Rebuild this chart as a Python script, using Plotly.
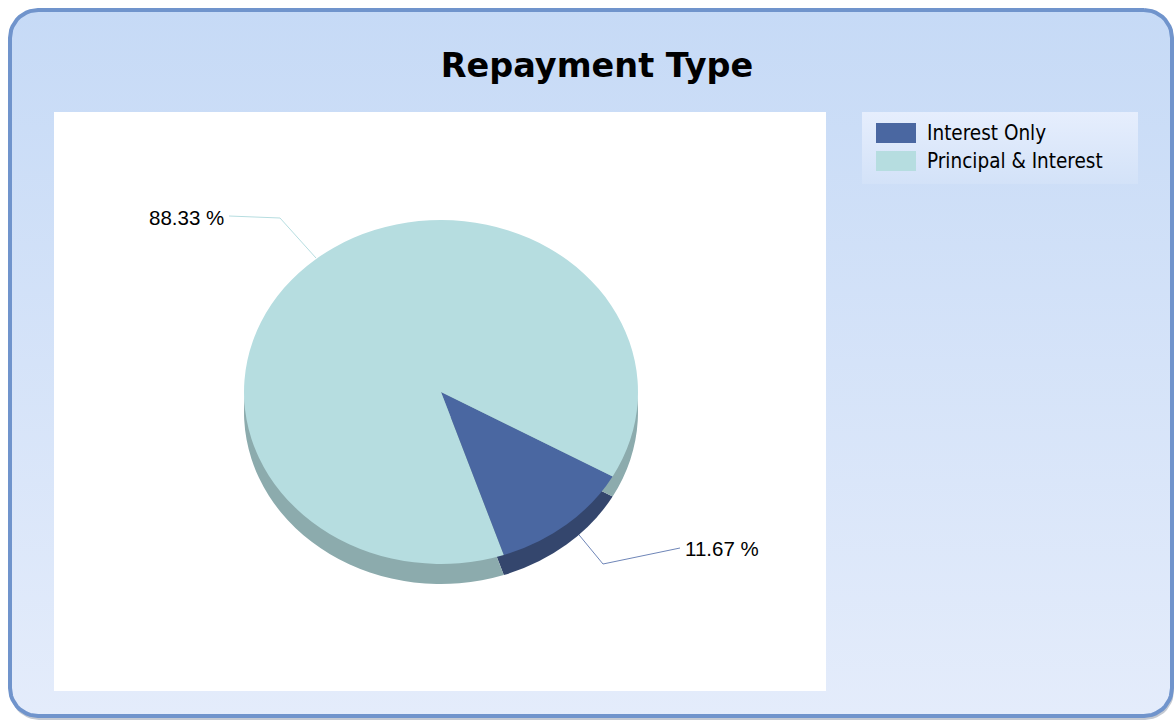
import numpy as np
import plotly.graph_objects as go

# ---- data ----
categories = ["Interest Only", "Principal & Interest"]
values = [11.67, 88.33]
top_colors = ["#4a67a1", "#b6dde0"]
side_colors = ["#34466d", "#8cabad"]

W, H = 1174, 720

def py(y):
    return H - y

def rounded_rect(x0, y0, x1, y1, r, n=12):
    xs, ys = [], []
    corners = [
        (x1 - r, y0 + r, -90, 0),
        (x1 - r, y1 - r, 0, 90),
        (x0 + r, y1 - r, 90, 180),
        (x0 + r, y0 + r, 180, 270),
    ]
    for cx_, cy_, a0, a1 in corners:
        t = np.radians(np.linspace(a0, a1, n))
        xs += list(cx_ + r * np.cos(t))
        ys += list(cy_ + r * np.sin(t))
    xs.append(xs[0]); ys.append(ys[0])
    return xs, [py(v) for v in ys]

fig = go.Figure()

# soft shadow under the panel
sx_, sy_ = rounded_rect(11, 12, 1173, 719, 28)
fig.add_trace(go.Scatter(
    x=sx_, y=sy_, mode="lines", fill="toself", fillcolor="#b9bfc9",
    line=dict(color="#c4c9d2", width=2), hoverinfo="skip", showlegend=False,
))
# background panel with gradient
bx, by = rounded_rect(10, 10, 1172, 716, 28)
fig.add_trace(go.Scatter(
    x=bx, y=by, mode="lines", fill="toself",
    line=dict(color="#7094cc", width=4),
    fillgradient=dict(type="vertical", colorscale=[[0, "#e4ecfb"], [1, "#c6daf6"]]),
    hoverinfo="skip", showlegend=False,
))
# white plot area
fig.add_trace(go.Scatter(
    x=[54, 826, 826, 54, 54], y=[py(112), py(112), py(691), py(691), py(112)],
    mode="lines", fill="toself", fillcolor="white", line=dict(width=0, color="white"),
    hoverinfo="skip", showlegend=False,
))
# legend box
fig.add_trace(go.Scatter(
    x=[862, 1138, 1138, 862, 862], y=[py(112), py(112), py(184), py(184), py(112)],
    mode="lines", fill="toself", line=dict(width=0, color="rgba(0,0,0,0)"),
    fillgradient=dict(type="vertical", colorscale=[[0, "#d3e2f8"], [1, "#e6eefd"]]),
    hoverinfo="skip", showlegend=False,
))
# leader lines
fig.add_trace(go.Scatter(
    x=[229, 280, 316], y=[py(216), py(218), py(258)], mode="lines",
    line=dict(color="#b6dde0", width=1), hoverinfo="skip", showlegend=False,
))
fig.add_trace(go.Scatter(
    x=[575, 603, 680], y=[py(530), py(564), py(548)], mode="lines",
    line=dict(color="#6f86b8", width=1), hoverinfo="skip", showlegend=False,
))

cx, cy, r, depth = 441, 392, 180, 21
rx, ry = 197, 172
def dom(offset):
    return dict(x=[(cx - r) / W, (cx + r) / W],
                y=[1 - (cy + r + offset) / H, 1 - (cy - r + offset) / H])

rot = 119.4
# side (depth) of the pie
fig.add_trace(go.Pie(
    labels=categories, values=values, sort=False, direction="clockwise",
    rotation=rot, domain=dom(depth), textinfo="none", hoverinfo="skip",
    marker=dict(colors=side_colors, line=dict(width=0)), showlegend=False,
))
# top face
fig.add_trace(go.Pie(
    labels=categories, values=values, sort=False, direction="clockwise",
    rotation=rot, domain=dom(0), textinfo="none",
    marker=dict(colors=top_colors, line=dict(width=0)), showlegend=False,
))

total = sum(values)
pct = [f"{v / total * 100:.2f} %" for v in values]
label_font = dict(family="Liberation Sans, Arial", size=20.5, color="black")
fig.add_annotation(x=226, y=py(217), xref="x", yref="y", text=pct[1],
                   showarrow=False, xanchor="right", yanchor="middle", font=label_font)
fig.add_annotation(x=683, y=py(548), xref="x", yref="y", text=pct[0],
                   showarrow=False, xanchor="left", yanchor="middle", font=label_font)

# legend entries
legend_font = dict(family="DejaVu Sans Condensed, DejaVu Sans", size=20.5, color="black")
for i, (name, col) in enumerate(zip(categories, top_colors)):
    yc = 133 + 28 * i
    fig.add_shape(type="rect", xref="x", yref="y", x0=876, x1=916,
                  y0=py(yc - 10), y1=py(yc + 10), fillcolor=col, line=dict(width=0))
    fig.add_annotation(x=925, y=py(yc), xref="x", yref="y", text=name, showarrow=False,
                       xanchor="left", yanchor="middle", font=legend_font)

fig.update_layout(
    width=W, height=H, autosize=False,
    margin=dict(l=0, r=0, t=0, b=0),
    paper_bgcolor="white", plot_bgcolor="rgba(0,0,0,0)",
    xaxis=dict(range=[0, W], visible=False, fixedrange=True, domain=[0, 1]),
    yaxis=dict(range=[0, H], visible=False, fixedrange=True, domain=[0, 1]),
    title=dict(text="<b>Repayment Type</b>", x=597 / W, xanchor="center",
               y=1 - 65 / H, yanchor="middle",
               font=dict(family="DejaVu Sans", size=33.5, color="black")),
    showlegend=False,
)

sx, sy = rx / r, ry / r
post = (
    "document.body.style.margin='0';document.body.style.overflow='hidden';"
    "var gd=document.getElementById('{plot_id}');"
    "gd.querySelectorAll('.pielayer .trace').forEach(function(g){"
    f"g.setAttribute('transform','translate({cx},{cy}) scale({sx:.4f},{sy:.4f}) translate({-cx},{-cy})');"
    "});"
)
fig.write_html("out.html", config=dict(displayModeBar=False, staticPlot=True), post_script=post)
